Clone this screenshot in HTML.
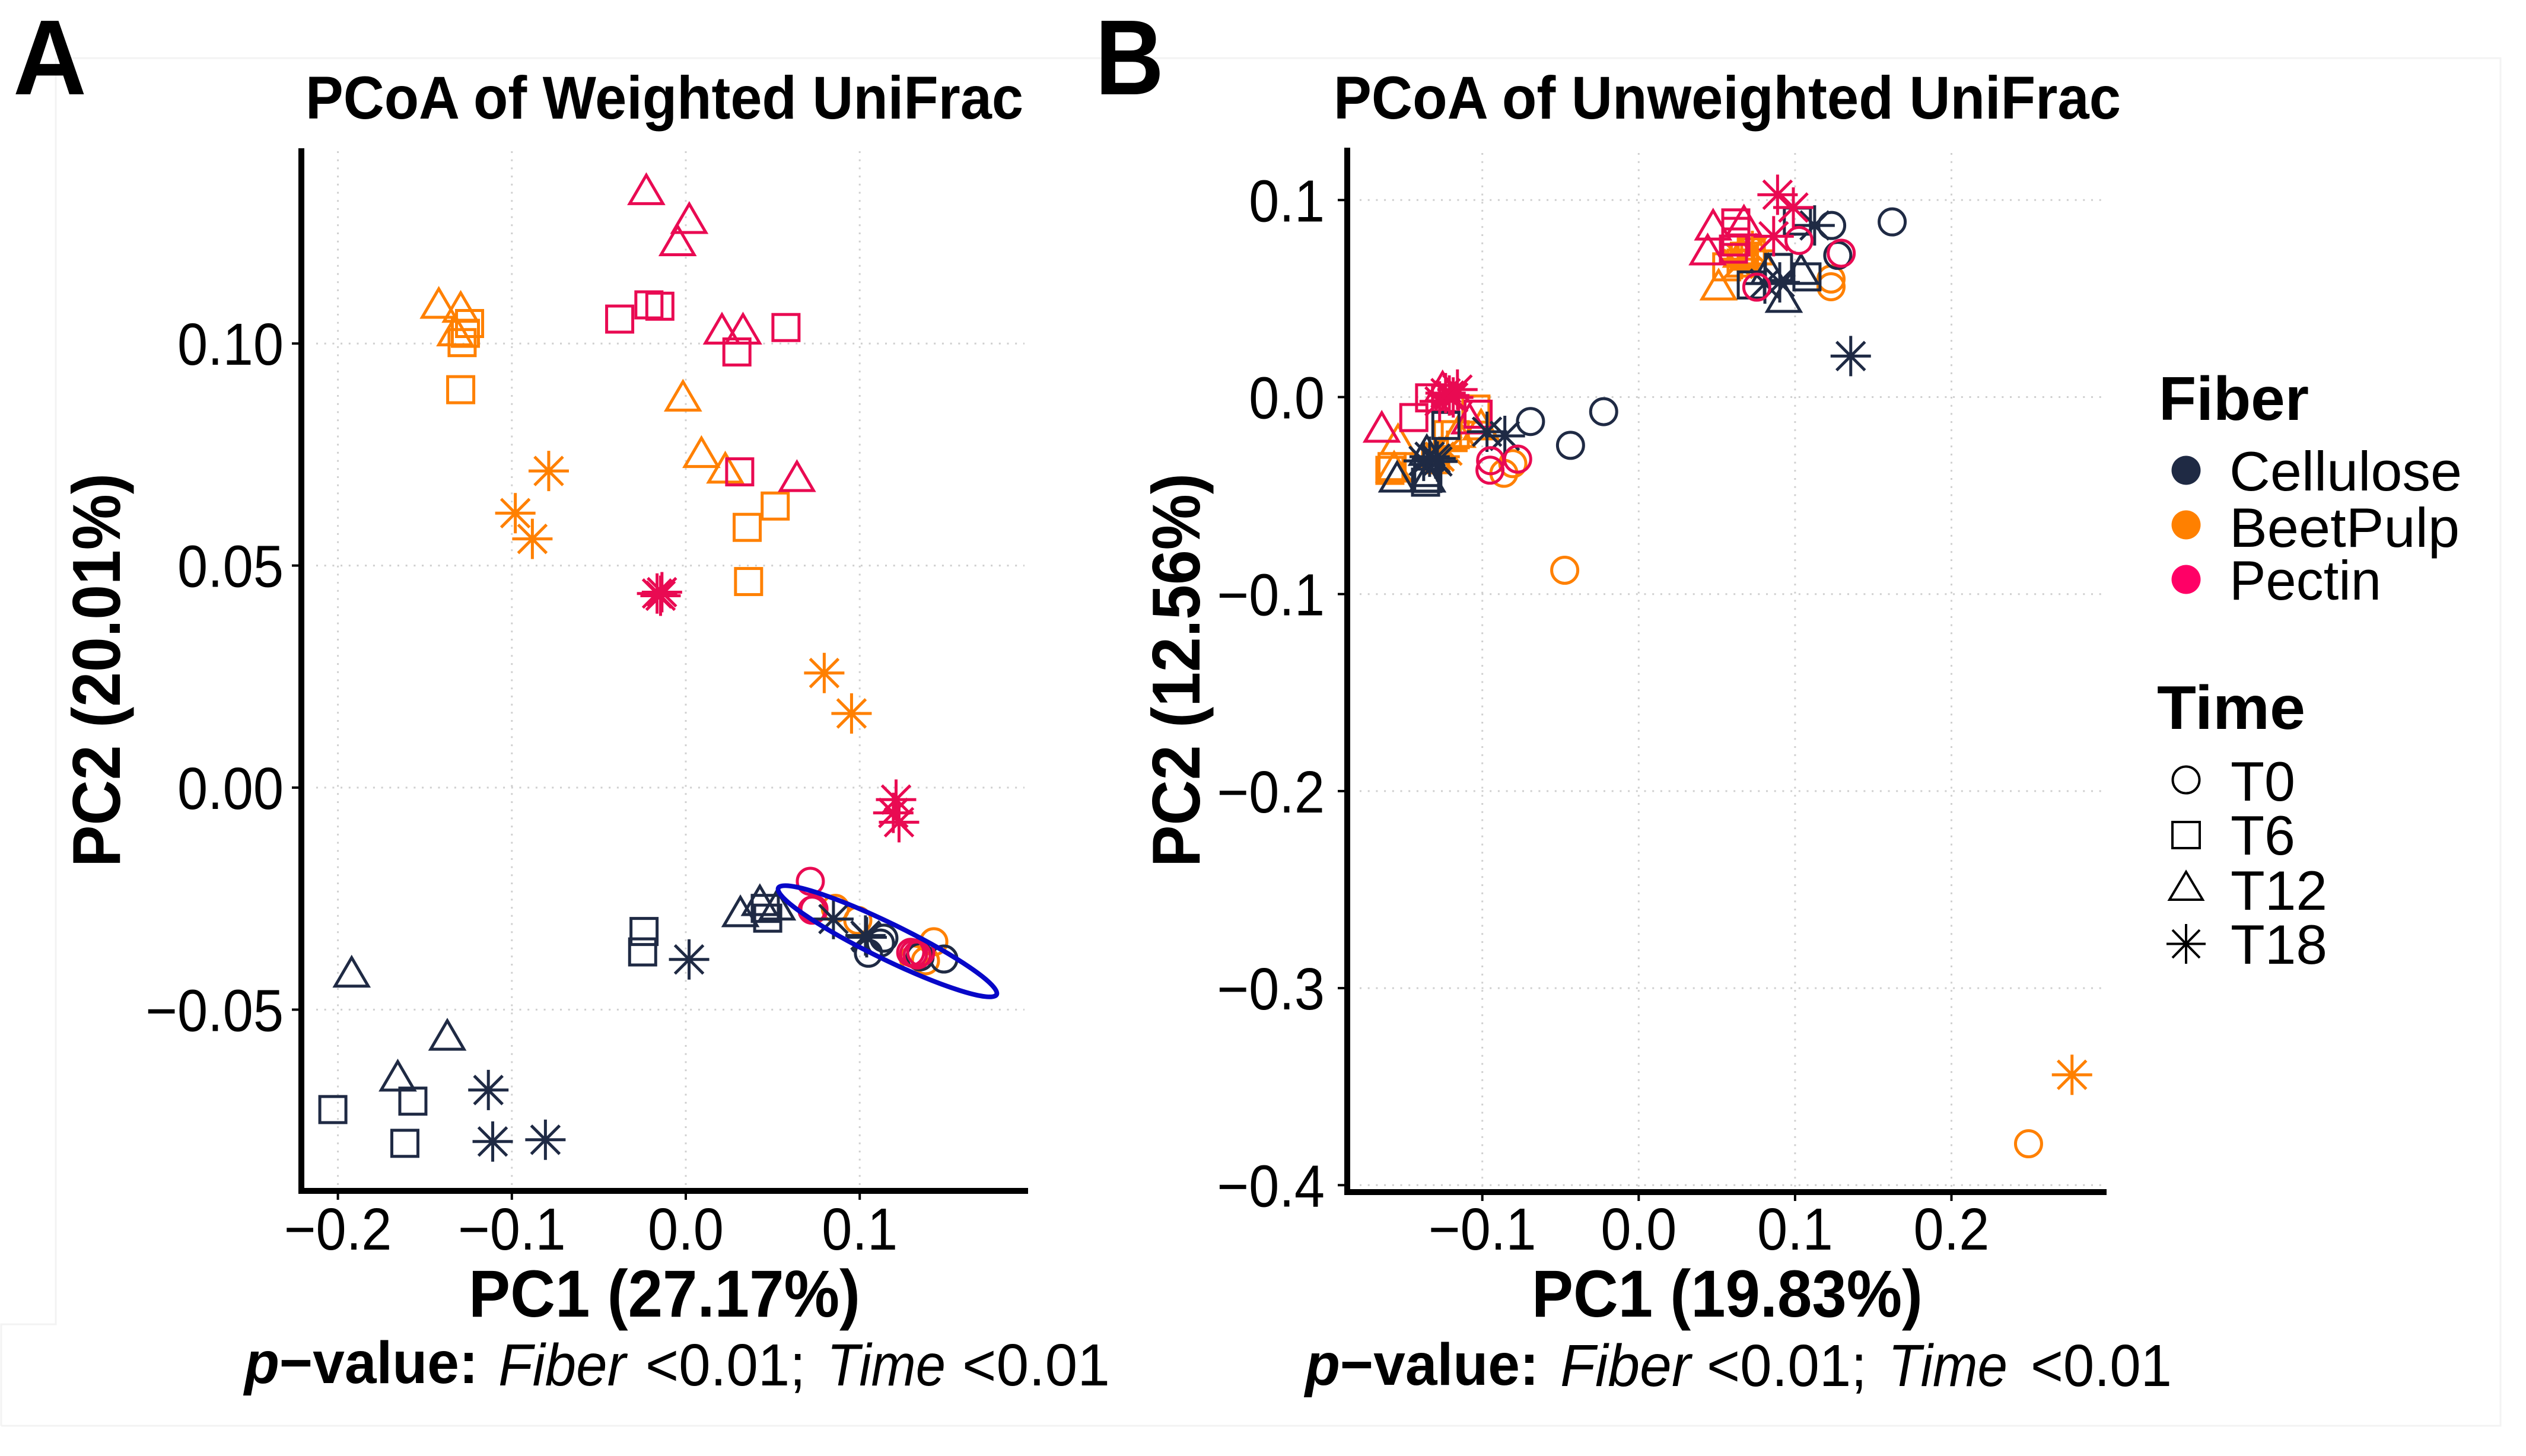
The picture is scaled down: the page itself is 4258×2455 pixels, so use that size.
<!DOCTYPE html>
<html lang="en">
<head>
<meta charset="utf-8">
<title>PCoA of Weighted and Unweighted UniFrac</title>
<style>
html,body{margin:0;padding:0;background:#fff;width:4258px;height:2455px;overflow:hidden}
svg{display:block}
text{font-family:"Liberation Sans",Arial,sans-serif;fill:#000}
.b{font-weight:700}
.i{font-style:italic}
.bi{font-weight:700;font-style:italic}
</style>
</head>
<body>
<svg id="fig" xmlns="http://www.w3.org/2000/svg" width="4258" height="2455" viewBox="0 0 4258 2455">
  <rect x="0" y="0" width="4258" height="2455" fill="#ffffff"/>
  <path d="M94 98H4215V2404H2M94 98V2233H2V2404" fill="none" stroke="#f3f3f3" stroke-width="3"/>

  <g id="panelA"></g>
  <g id="panelB"></g>

  <text class="b" x="22" y="159" font-size="180" textLength="124" lengthAdjust="spacingAndGlyphs">A</text>
  <text class="b" x="1846" y="159" font-size="180" textLength="116" lengthAdjust="spacingAndGlyphs">B</text>

  <text class="b" x="515" y="200" font-size="102" textLength="1210" lengthAdjust="spacingAndGlyphs">PCoA of Weighted UniFrac</text>
  <text class="b" x="2248" y="200" font-size="102" textLength="1327" lengthAdjust="spacingAndGlyphs">PCoA of Unweighted UniFrac</text>

  <text class="b" transform="translate(202 1462) rotate(-90)" font-size="114" textLength="664" lengthAdjust="spacingAndGlyphs">PC2 (20.01%)</text>
  <text class="b" transform="translate(2022 1462) rotate(-90)" font-size="114" textLength="664" lengthAdjust="spacingAndGlyphs">PC2 (12.56%)</text>

  <text class="b" x="790" y="2220" font-size="112" textLength="660" lengthAdjust="spacingAndGlyphs">PC1 (27.17%)</text>
  <text class="b" x="2582" y="2220" font-size="112" textLength="659" lengthAdjust="spacingAndGlyphs">PC1 (19.83%)</text>

  <g font-size="100">
    <text y="2332" x="412" textLength="394" lengthAdjust="spacingAndGlyphs"><tspan class="bi">p</tspan><tspan class="b">−value:</tspan></text>
    <text class="i" y="2336" x="840" textLength="215" lengthAdjust="spacingAndGlyphs">Fiber</text>
    <text y="2336" x="1088" textLength="270" lengthAdjust="spacingAndGlyphs">&lt;0.01;</text>
    <text class="i" y="2336" x="1394" textLength="200" lengthAdjust="spacingAndGlyphs">Time</text>
    <text y="2336" x="1622" textLength="249" lengthAdjust="spacingAndGlyphs">&lt;0.01</text>
  </g>
  <g font-size="100">
    <text y="2335" x="2200" textLength="394" lengthAdjust="spacingAndGlyphs"><tspan class="bi">p</tspan><tspan class="b">−value:</tspan></text>
    <text class="i" y="2337" x="2630" textLength="220" lengthAdjust="spacingAndGlyphs">Fiber</text>
    <text y="2337" x="2877" textLength="270" lengthAdjust="spacingAndGlyphs">&lt;0.01;</text>
    <text class="i" y="2337" x="3183" textLength="201" lengthAdjust="spacingAndGlyphs">Time</text>
    <text y="2337" x="3423" textLength="238" lengthAdjust="spacingAndGlyphs">&lt;0.01</text>
  </g>

  <g>
    <text class="b" x="3639" y="708" font-size="104" textLength="253" lengthAdjust="spacingAndGlyphs">Fiber</text>
    <circle cx="3685" cy="793" r="24.5" fill="#1f2a44"/>
    <text x="3758" y="827" font-size="94" textLength="392" lengthAdjust="spacingAndGlyphs">Cellulose</text>
    <circle cx="3685" cy="885" r="24.5" fill="#ff8000"/>
    <text x="3758" y="922" font-size="94" textLength="388" lengthAdjust="spacingAndGlyphs">BeetPulp</text>
    <circle cx="3685" cy="977" r="24.5" fill="#ff0066"/>
    <text x="3758" y="1011" font-size="94" textLength="256" lengthAdjust="spacingAndGlyphs">Pectin</text>

    <text class="b" x="3636" y="1229" font-size="104" textLength="250" lengthAdjust="spacingAndGlyphs">Time</text>
    <circle cx="3685" cy="1315" r="22.5" fill="none" stroke="#000" stroke-width="4"/>
    <text x="3760" y="1350" font-size="94" textLength="109" lengthAdjust="spacingAndGlyphs">T0</text>
    <rect x="3662" y="1386" width="46" height="44" fill="none" stroke="#000" stroke-width="4"/>
    <text x="3760" y="1441" font-size="94" textLength="109" lengthAdjust="spacingAndGlyphs">T6</text>
    <polygon points="3685,1470 3657,1517 3713,1517" fill="none" stroke="#000" stroke-width="4"/>
    <text x="3760" y="1534" font-size="94" textLength="163" lengthAdjust="spacingAndGlyphs">T12</text>
    <path d="M3685 1558V1625M3652 1591.5H3718M3662 1568L3708 1615M3708 1568L3662 1615" fill="none" stroke="#000" stroke-width="4"/>
    <text x="3760" y="1625" font-size="94" textLength="163" lengthAdjust="spacingAndGlyphs">T18</text>
  </g>
</svg>

<script>
// ---------- Panel A (Weighted UniFrac) axes ----------
const aXTickValues = [-0.2, -0.1, 0.0, 0.1];
const aXTickLabels = ['−0.2', '−0.1', '0.0', '0.1'];
const aYTickValues = [-0.05, 0.00, 0.05, 0.10];
const aYTickLabels = ['−0.05', '0.00', '0.05', '0.10'];

// ---------- Panel A values: [PC1, PC2] ----------
const aOrangeT0 = [[.086,-.0272],[.0989,-.0299],[.1426,-.0347],[.131,-.0386],[.1378,-.039]];
const aCelluloseT0 = [[.1139,-.0339],[.1119,-.035],[.105,-.0373],[.1484,-.0386],[.1347,-.0381]];
const aPectinT0 = [[.0716,-.0211],[.0737,-.0274],[.0726,-.0276],[.131,-.0374],[.133,-.0377],[.1293,-.0371],[.1351,-.0371]];
const aOrangeT6 = [[-.1243,.1045],[-.1267,.1023],[-.1286,.1002],[-.1294,.0896],[.0353,.0586],[.0514,.0634],[.0361,.0464]];
const aOrangeT12 = [[-.142,.1079],[-.1294,.107],[-.1325,.1017],[-.0016,.087],[.009,.0743],[.0227,.0708]];
const aOrangeT18 = [[-.0788,.0713],[-.098,.0618],[-.0882,.056],[.0796,.0258],[.0953,.0167]];
const aPectinT6 = [[-.038,.1055],[-.0212,.1087],[-.0149,.1084],[.0294,.0981],[.0576,.1036],[.031,.0711]];
const aPectinT12 = [[-.0227,.1335],[.002,.127],[-.0047,.122],[.0208,.1021],[.0329,.1021],[.0639,.0689]];
const aPectinT18 = [[-.0165,.0437],[-.0145,.0432],[-.0137,.044],[.1209,-.0027],[.1193,-.0057],[.1226,-.0078]];
const aCelluloseT6 = [[-.024,-.0324],[-.0248,-.037],[-.2029,-.0725],[-.1569,-.0706],[-.1615,-.0801],[.0457,-.0272],[.0471,-.0294]];
const aCelluloseT12 = [[-.1921,-.0427],[-.1371,-.0569],[-.1656,-.0661],[.0314,-.0291],[.0426,-.0266],[.0525,-.0276]];
const aCelluloseT18 = [[-.1135,-.0681],[-.111,-.0797],[-.0807,-.0793],[.0019,-.0387],[.0849,-.0296],[.1033,-.0333],[.104,-.0337]];
const aEllipseTipOne = [.0532,-.0226];
const aEllipseTipTwo = [.1787,-.0466];

// ---------- Panel B (Unweighted UniFrac) axes ----------
const bXTickValues = [-0.1, 0.0, 0.1, 0.2];
const bXTickLabels = ['−0.1', '0.0', '0.1', '0.2'];
const bYTickValues = [-0.4, -0.3, -0.2, -0.1, 0.0, 0.1];
const bYTickLabels = ['−0.4', '−0.3', '−0.2', '−0.1', '0.0', '0.1'];

// ---------- Panel B values: [PC1, PC2] ----------
const bOrangeT0 = [[-.0805,-.0338],[-.0862,-.0387],[.123,.0599],[.123,.056],[.2493,-.379],[-.0473,-.0879]];
const bOrangeT6 = [[-.1223,-.0191],[-.1173,-.0191],[-.1041,-.0061],[-.1591,-.0372],[-.1577,-.0353],[-.1299,-.0318],[.0563,.0661],[.0676,.0715],[.072,.0737],[.0655,.068]];
const bOrangeT12 = [[-.1539,-.0242],[-.1564,-.0381],[-.1008,-.0167],[-.1159,-.0206],[.0511,.0543],[.0655,.0709],[.075,.0721]];
const bOrangeT18 = [[-.1273,-.0303],[-.1223,-.0272],[.0659,.07],[.0727,.0742],[.0636,.0676],[.2771,-.344]];
const bPectinT6 = [[-.1337,-.0004],[-.1438,-.0104],[-.1027,-.0087],[-.1235,-.0007],[.0621,.0884],[.0621,.0841],[.0621,.0787],[.0606,.0751]];
const bPectinT12 = [[-.1643,-.0179],[-.1254,.0026],[-.1082,-.0137],[.0476,.0847],[.0673,.0868],[.0441,.0721]];
const bCelluloseT0 = [[-.0224,-.0074],[-.0436,-.0245],[-.0692,-.0124],[.1234,.0871],[.1621,.0889],[.1273,.0719]];
const bCelluloseT6 = [[-.1233,-.0144],[-.1349,-.0413],[-.1349,-.0383],[-.1363,-.0432],[.072,.0569],[.1076,.061],[.1015,.0893],[.0894,.0658]];
const bCelluloseT12 = [[-.1545,-.0432],[-.1355,-.0297],[-.1352,-.0432],[.0928,.048],[.083,.0622],[.1038,.0622]];
const bCelluloseT18 = [[-.0856,-.0197],[-.097,-.0176],[-.1299,-.0312],[-.1337,-.0303],[-.1375,-.0324],[-.1287,-.0327],[.1125,.0871],[.1356,.0208],[.0902,.0582],[.0807,.0576]];
const bPectinT0 = [[-.0774,-.0315],[-.0947,-.0323],[-.0951,-.0371],[.1295,.073],[.1025,.0795],[.0755,.0558]];
const bPectinT18 = [[-.1211,.0008],[-.1235,.002],[-.1186,-.0002],[-.1159,.0038],[-.1273,-.0022],[.0888,.1027],[.0989,.0962],[.0863,.0816]];

// ---------- Drawing ----------
const NS = 'http://www.w3.org/2000/svg';
const fiberColor = { cellulose: '#1f2a44', beetpulp: '#ff8000', pectin: '#e90a52' };

const xA = v => 1156 + 2932 * v;
const yA = v => 1328 - 7488 * v;
const xB = v => 2762.3 + 2636 * v;
const yB = v => 669.5 - 3322 * v;

function gridLine(parent, x1, y1, x2, y2) {
  const el = document.createElementNS(NS, 'line');
  el.setAttribute('x1', x1); el.setAttribute('y1', y1);
  el.setAttribute('x2', x2); el.setAttribute('y2', y2);
  el.setAttribute('stroke', '#cfcfcf');
  el.setAttribute('stroke-width', 3);
  el.setAttribute('stroke-dasharray', '3 10.7');
  
  
  parent.appendChild(el);
}

function solidLine(parent, x1, y1, x2, y2, w, name) {
  const el = document.createElementNS(NS, 'line');
  el.setAttribute('x1', x1); el.setAttribute('y1', y1);
  el.setAttribute('x2', x2); el.setAttribute('y2', y2);
  el.setAttribute('stroke', '#000');
  el.setAttribute('stroke-width', w);
  
  
  parent.appendChild(el);
}

function tickLabel(parent, x, y, str, anchor, name) {
  const el = document.createElementNS(NS, 'text');
  el.setAttribute('transform', 'translate(' + x + ' ' + y + ') scale(0.92 1)');
  el.setAttribute('font-size', 100);
  el.setAttribute('text-anchor', anchor);
  el.textContent = str;
  
  
  parent.appendChild(el);
}

function marker(parent, shape, cx, cy, color, name) {
  let el;
  if (shape === 'circle') {
    el = document.createElementNS(NS, 'circle');
    el.setAttribute('cx', cx); el.setAttribute('cy', cy); el.setAttribute('r', 22);
  } else if (shape === 'square') {
    el = document.createElementNS(NS, 'rect');
    el.setAttribute('x', cx - 22); el.setAttribute('y', cy - 22);
    el.setAttribute('width', 44); el.setAttribute('height', 44);
  } else if (shape === 'triangle') {
    el = document.createElementNS(NS, 'polygon');
    el.setAttribute('points', cx + ',' + (cy - 33) + ' ' + (cx - 28) + ',' + (cy + 15) + ' ' + (cx + 28) + ',' + (cy + 15));
  } else {
    el = document.createElementNS(NS, 'path');
    el.setAttribute('d', 'M' + cx + ' ' + (cy - 34) + 'V' + (cy + 34) + 'M' + (cx - 34) + ' ' + cy + 'H' + (cx + 34) +
      'M' + (cx - 24) + ' ' + (cy - 24) + 'L' + (cx + 24) + ' ' + (cy + 24) +
      'M' + (cx + 24) + ' ' + (cy - 24) + 'L' + (cx - 24) + ' ' + (cy + 24));
  }
  el.setAttribute('fill', 'none');
  el.setAttribute('stroke', color);
  el.setAttribute('stroke-width', 5);
  
  
  parent.appendChild(el);
}

function drawSeries(parent, points, fiber, shape, time, fx, fy) {
  points.forEach(p => marker(parent, shape, fx(p[0]), fy(p[1]), fiberColor[fiber], fiber + '-' + time + '-point'));
}

function drawAxes(parent, opt) {
  opt.xValues.forEach(v => gridLine(parent, opt.fx(v), opt.gridTop, opt.fx(v), opt.gridBottom));
  opt.yValues.forEach(v => gridLine(parent, opt.gridLeft, opt.fy(v), opt.gridRight, opt.fy(v)));
  opt.xValues.forEach((v, i) => {
    solidLine(parent, opt.fx(v), opt.axisY, opt.fx(v), opt.axisY + 15, 4, 'x-axis-tick');
    tickLabel(parent, opt.fx(v), 2107, opt.xLabels[i], 'middle', 'x-axis-tick-label');
  });
  opt.yValues.forEach((v, i) => {
    solidLine(parent, opt.axisX - 16, opt.fy(v), opt.axisX, opt.fy(v), 4, 'y-axis-tick');
    tickLabel(parent, opt.labelRight, opt.fy(v) + 36, opt.yLabels[i], 'end', 'y-axis-tick-label');
  });
  solidLine(parent, opt.axisX, opt.axisTop, opt.axisX, opt.axisY + 4, 10, 'y-axis-line');
  solidLine(parent, opt.axisX - 5, opt.axisY, opt.axisRight, opt.axisY, 10, 'x-axis-line');
}

const panelA = document.getElementById('panelA');
const panelB = document.getElementById('panelB');

drawAxes(panelA, {
  fx: xA, fy: yA, xValues: aXTickValues, xLabels: aXTickLabels, yValues: aYTickValues, yLabels: aYTickLabels,
  gridTop: 255, gridBottom: 2002, gridLeft: 533, gridRight: 1727,
  axisX: 508, axisY: 2008, axisTop: 250, axisRight: 1733, labelRight: 478
});
drawSeries(panelA, aOrangeT0, 'beetpulp', 'circle', 't0', xA, yA);
drawSeries(panelA, aCelluloseT0, 'cellulose', 'circle', 't0', xA, yA);
drawSeries(panelA, aPectinT0, 'pectin', 'circle', 't0', xA, yA);
drawSeries(panelA, aOrangeT6, 'beetpulp', 'square', 't6', xA, yA);
drawSeries(panelA, aOrangeT12, 'beetpulp', 'triangle', 't12', xA, yA);
drawSeries(panelA, aOrangeT18, 'beetpulp', 'asterisk', 't18', xA, yA);
drawSeries(panelA, aPectinT6, 'pectin', 'square', 't6', xA, yA);
drawSeries(panelA, aPectinT12, 'pectin', 'triangle', 't12', xA, yA);
drawSeries(panelA, aPectinT18, 'pectin', 'asterisk', 't18', xA, yA);
drawSeries(panelA, aCelluloseT6, 'cellulose', 'square', 't6', xA, yA);
drawSeries(panelA, aCelluloseT12, 'cellulose', 'triangle', 't12', xA, yA);
drawSeries(panelA, aCelluloseT18, 'cellulose', 'asterisk', 't18', xA, yA);

// Blue confidence ellipse drawn from its two tips in data units
const tipOneX = xA(aEllipseTipOne[0]), tipOneY = yA(aEllipseTipOne[1]);
const tipTwoX = xA(aEllipseTipTwo[0]), tipTwoY = yA(aEllipseTipTwo[1]);
const ellipseEl = document.createElementNS(NS, 'ellipse');
const ellipseCx = (tipOneX + tipTwoX) / 2;
const ellipseCy = (tipOneY + tipTwoY) / 2;
ellipseEl.setAttribute('cx', ellipseCx);
ellipseEl.setAttribute('cy', ellipseCy);
ellipseEl.setAttribute('rx', Math.hypot(tipTwoX - tipOneX, tipTwoY - tipOneY) / 2);
ellipseEl.setAttribute('ry', 30);
ellipseEl.setAttribute('transform', 'rotate(' + (Math.atan2(tipTwoY - tipOneY, tipTwoX - tipOneX) * 180 / Math.PI) + ' ' + ellipseCx + ' ' + ellipseCy + ')');
ellipseEl.setAttribute('fill', 'none');
ellipseEl.setAttribute('stroke', '#0707c8');
ellipseEl.setAttribute('stroke-width', 8);


panelA.appendChild(ellipseEl);

drawAxes(panelB, {
  fx: xB, fy: yB, xValues: bXTickValues, xLabels: bXTickLabels, yValues: bYTickValues, yLabels: bYTickLabels,
  gridTop: 258, gridBottom: 2004, gridLeft: 2292, gridRight: 3543,
  axisX: 2271, axisY: 2010, axisTop: 249, axisRight: 3551, labelRight: 2233
});
drawSeries(panelB, bOrangeT0, 'beetpulp', 'circle', 't0', xB, yB);
drawSeries(panelB, bOrangeT6, 'beetpulp', 'square', 't6', xB, yB);
drawSeries(panelB, bOrangeT12, 'beetpulp', 'triangle', 't12', xB, yB);
drawSeries(panelB, bOrangeT18, 'beetpulp', 'asterisk', 't18', xB, yB);
drawSeries(panelB, bPectinT6, 'pectin', 'square', 't6', xB, yB);
drawSeries(panelB, bPectinT12, 'pectin', 'triangle', 't12', xB, yB);
drawSeries(panelB, bCelluloseT0, 'cellulose', 'circle', 't0', xB, yB);
drawSeries(panelB, bCelluloseT6, 'cellulose', 'square', 't6', xB, yB);
drawSeries(panelB, bCelluloseT12, 'cellulose', 'triangle', 't12', xB, yB);
drawSeries(panelB, bCelluloseT18, 'cellulose', 'asterisk', 't18', xB, yB);
drawSeries(panelB, bPectinT0, 'pectin', 'circle', 't0', xB, yB);
drawSeries(panelB, bPectinT18, 'pectin', 'asterisk', 't18', xB, yB);
</script>
</body>
</html>
